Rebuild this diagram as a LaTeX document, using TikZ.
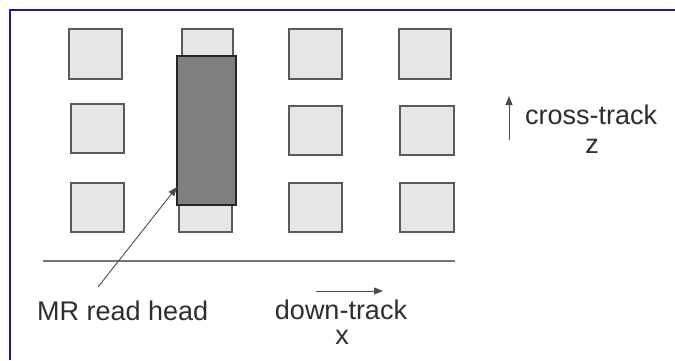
\documentclass[tikz,border=0pt]{standalone}
\usepackage{fontspec}
\setmainfont{Liberation Sans}
\usetikzlibrary{arrows.meta}
\definecolor{cellfill}{HTML}{E6E6E6}
\definecolor{celledge}{HTML}{5A5A5A}
\definecolor{headfill}{HTML}{7F7F7F}
\definecolor{framecol}{HTML}{1A1A9A}
\definecolor{txt}{HTML}{2E2E2E}
\tikzset{
  cell/.style={draw=celledge, fill=cellfill, line width=1.4pt, inner sep=0pt},
  head/.style={draw=black!85, fill=headfill, line width=1.4pt, inner sep=0pt},
  lbl/.style={inner sep=0pt, text=txt, font=\fontsize{27}{30}\selectfont},
  thinarrow/.style={draw=black!70, line width=0.9pt, -{Triangle[length=9pt,width=7pt]}},
}
\begin{document}
\begin{tikzpicture}[x=1pt,y=-1pt]
\useasboundingbox[fill=white] (0,0) rectangle (675,360);
% frame
\coordinate (fa) at (10,360);
\coordinate (fb) at (10,10);
\coordinate (fc) at (675,10);
\draw[framecol, line width=1.6pt] (fa) -- (fb) -- (fc);
% cells: column 1
\path[cell] (69,29) rectangle (122,79) node[pos=.5] (c11) {};
\path[cell] (71,104) rectangle (124,153) node[pos=.5] (c12) {};
\path[cell] (71,183) rectangle (124,232) node[pos=.5] (c13) {};
% column 2
\path[cell] (182,29) rectangle (233,70) node[pos=.5] (c21) {};
\path[cell] (179,195) rectangle (232,232) node[pos=.5] (c23) {};
% column 3
\path[cell] (289,29) rectangle (342,79) node[pos=.5] (c31) {};
\path[cell] (289,106) rectangle (342,155) node[pos=.5] (c32) {};
\path[cell] (289,183) rectangle (342,232) node[pos=.5] (c33) {};
% column 4
\path[cell] (399,29) rectangle (451,79) node[pos=.5] (c41) {};
\path[cell] (400,106) rectangle (454,155) node[pos=.5] (c42) {};
\path[cell] (400,183) rectangle (454,232) node[pos=.5] (c43) {};
% read head
\path[head] (177,56) rectangle (236,205) node[pos=.5] (mr) {};
\coordinate (mrtip) at (177,187);
% track line
\coordinate (tl) at (43,261);
\coordinate (tr) at (455,261);
\draw[black!55, line width=1.2pt] (tl) -- (tr);
% labels
\node[lbl, anchor=west] (mrlbl) at (37,311) {MR read head};
\coordinate (leadstart) at (98,287);
\draw[thinarrow] (leadstart) -- (mrtip);
\node[lbl] (dt) at (341,310) {down-track};
\node[lbl] (dx) at (342,337) {x};
\coordinate (dta) at (316,291);
\coordinate (dtb) at (383,291);
\draw[thinarrow] (dta) -- (dtb);
\node[lbl, anchor=west] (ct) at (525,115) {cross-track};
\node[lbl] (cz) at (592,146) {z};
\coordinate (cta) at (509,140);
\coordinate (ctb) at (509,96);
\draw[thinarrow] (cta) -- (ctb);
\end{tikzpicture}
\end{document}
